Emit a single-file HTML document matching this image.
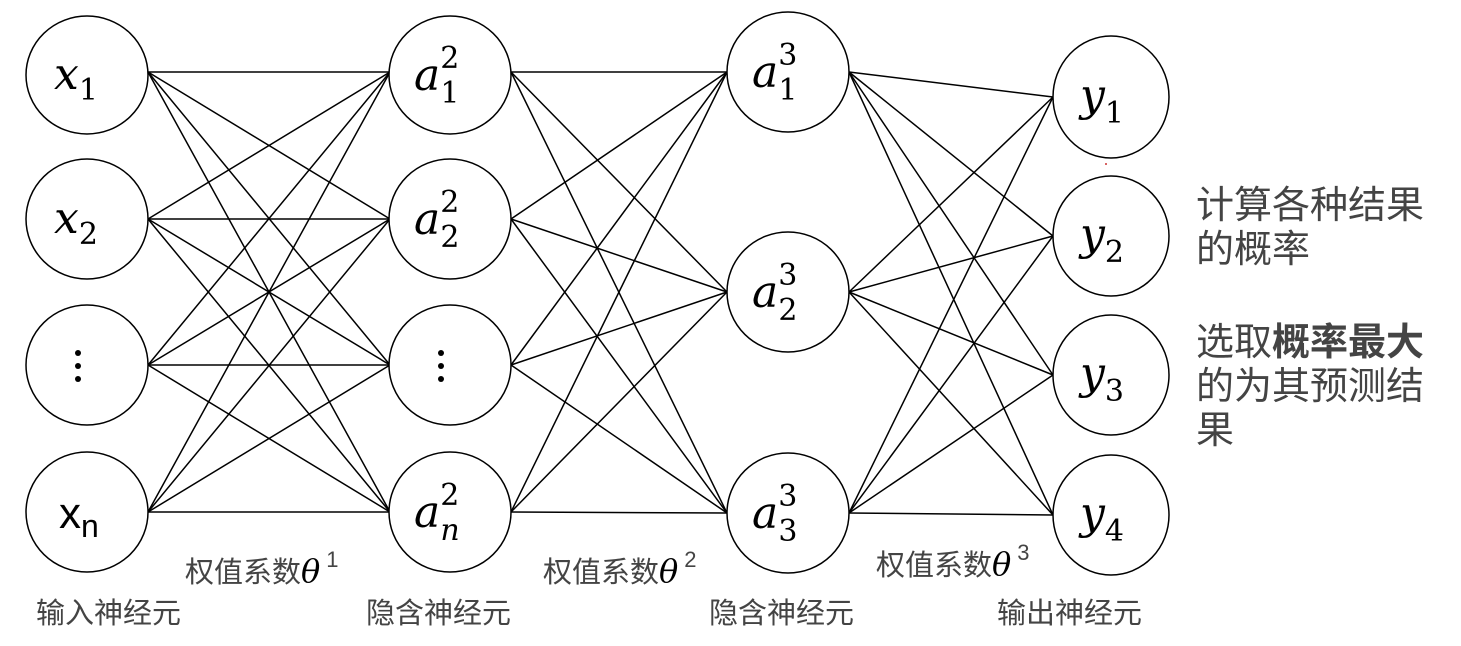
<!DOCTYPE html>
<html><head><meta charset="utf-8"><style>
html,body{margin:0;padding:0;background:#fff;}
svg{display:block;}
.m{font-family:"DejaVu Serif","Liberation Serif",serif;font-style:italic;fill:#000;}
.cn{font-family:"Liberation Sans","Noto Sans CJK SC",sans-serif;fill:#444;}
</style></head><body>
<svg width="1461" height="646" viewBox="0 0 1461 646" xmlns="http://www.w3.org/2000/svg">
<g stroke="#000" stroke-width="1.5" fill="none">
<line x1="148" y1="72" x2="390" y2="72"/><line x1="148" y1="72" x2="390" y2="219"/><line x1="148" y1="72" x2="390" y2="365"/><line x1="148" y1="72" x2="390" y2="512"/>
<line x1="148" y1="219" x2="390" y2="72"/><line x1="148" y1="219" x2="390" y2="219"/><line x1="148" y1="219" x2="390" y2="365"/><line x1="148" y1="219" x2="390" y2="512"/>
<line x1="148" y1="365" x2="390" y2="72"/><line x1="148" y1="365" x2="390" y2="219"/><line x1="148" y1="365" x2="390" y2="365"/><line x1="148" y1="365" x2="390" y2="512"/>
<line x1="148" y1="512" x2="390" y2="72"/><line x1="148" y1="512" x2="390" y2="219"/><line x1="148" y1="512" x2="390" y2="365"/><line x1="148" y1="512" x2="390" y2="512"/>
<line x1="511" y1="72" x2="727" y2="72"/><line x1="511" y1="72" x2="727" y2="292"/><line x1="511" y1="72" x2="727" y2="513"/>
<line x1="511" y1="219" x2="727" y2="72"/><line x1="511" y1="219" x2="727" y2="292"/><line x1="511" y1="219" x2="727" y2="513"/>
<line x1="511" y1="365" x2="727" y2="72"/><line x1="511" y1="365" x2="727" y2="292"/><line x1="511" y1="365" x2="727" y2="513"/>
<line x1="511" y1="512" x2="727" y2="72"/><line x1="511" y1="512" x2="727" y2="292"/><line x1="511" y1="512" x2="727" y2="513"/>
<line x1="849" y1="72" x2="1053" y2="97"/><line x1="849" y1="72" x2="1053" y2="236"/><line x1="849" y1="72" x2="1053" y2="375"/><line x1="849" y1="72" x2="1053" y2="515"/>
<line x1="849" y1="292" x2="1053" y2="97"/><line x1="849" y1="292" x2="1053" y2="236"/><line x1="849" y1="292" x2="1053" y2="375"/><line x1="849" y1="292" x2="1053" y2="515"/>
<line x1="849" y1="513" x2="1053" y2="97"/><line x1="849" y1="513" x2="1053" y2="236"/><line x1="849" y1="513" x2="1053" y2="375"/><line x1="849" y1="513" x2="1053" y2="515"/>
</g>
<g stroke="#000" stroke-width="1.5" fill="#fff">
<ellipse cx="87" cy="75" rx="61" ry="59"/>
<ellipse cx="87" cy="219" rx="61" ry="60"/>
<ellipse cx="87" cy="365" rx="61" ry="60"/>
<ellipse cx="87" cy="512" rx="61" ry="60"/>
<ellipse cx="450" cy="75" rx="61" ry="59"/>
<ellipse cx="450" cy="219" rx="61" ry="60"/>
<ellipse cx="450" cy="365" rx="61" ry="60"/>
<ellipse cx="450" cy="512" rx="61" ry="60"/>
<ellipse cx="788" cy="72" rx="61" ry="60"/>
<ellipse cx="788" cy="292" rx="61" ry="60"/>
<ellipse cx="788" cy="513" rx="61" ry="60"/>
<ellipse cx="1111" cy="97" rx="58" ry="61"/>
<ellipse cx="1111" cy="236" rx="58" ry="60"/>
<ellipse cx="1111" cy="375" rx="58" ry="60"/>
<ellipse cx="1111" cy="515" rx="58" ry="60"/>
</g>
<g class="m" font-size="44">
<text x="54" y="89">x<tspan font-size="30" font-style="normal" dy="11">1</tspan></text>
<text x="54" y="233">x<tspan font-size="30" font-style="normal" dy="11">2</tspan></text>
<text x="414" y="90">a<tspan font-size="30" font-style="normal" dy="-22">2</tspan><tspan font-size="30" font-style="normal" dx="-19" dy="35">1</tspan></text>
<text x="414" y="234">a<tspan font-size="30" font-style="normal" dy="-22">2</tspan><tspan font-size="30" font-style="normal" dx="-19" dy="35">2</tspan></text>
<text x="414" y="527">a<tspan font-size="30" font-style="normal" dy="-22">2</tspan><tspan font-size="30" dx="-19" dy="35">n</tspan></text>
<text x="752" y="87">a<tspan font-size="30" font-style="normal" dy="-22">3</tspan><tspan font-size="30" font-style="normal" dx="-19" dy="35">1</tspan></text>
<text x="752" y="307">a<tspan font-size="30" font-style="normal" dy="-22">3</tspan><tspan font-size="30" font-style="normal" dx="-19" dy="35">2</tspan></text>
<text x="752" y="528">a<tspan font-size="30" font-style="normal" dy="-22">3</tspan><tspan font-size="30" font-style="normal" dx="-19" dy="35">3</tspan></text>
<text x="1080" y="110">y<tspan font-size="30" font-style="normal" dy="13">1</tspan></text>
<text x="1080" y="249">y<tspan font-size="30" font-style="normal" dy="13">2</tspan></text>
<text x="1080" y="388">y<tspan font-size="30" font-style="normal" dy="13">3</tspan></text>
<text x="1080" y="528">y<tspan font-size="30" font-style="normal" dy="13">4</tspan></text>
</g>
<g fill="#000">
<circle cx="78" cy="353" r="3"/><circle cx="78" cy="366" r="3"/><circle cx="78" cy="379" r="3"/>
<circle cx="441" cy="353" r="3"/><circle cx="441" cy="366" r="3"/><circle cx="441" cy="379" r="3"/>
</g>
<text x="59" y="528" font-family="Liberation Sans, sans-serif" font-size="44" fill="#000">x<tspan font-size="32" dy="9">n</tspan></text>
<g class="cn" font-size="29">
<text x="185" y="582">权值系数<tspan class="m" fill="#444" font-size="32">θ</tspan><tspan font-size="22" dy="-15" dx="6">1</tspan></text>
<text x="543" y="582">权值系数<tspan class="m" fill="#444" font-size="32">θ</tspan><tspan font-size="22" dy="-15" dx="6">2</tspan></text>
<text x="876" y="575">权值系数<tspan class="m" fill="#444" font-size="32">θ</tspan><tspan font-size="22" dy="-15" dx="6">3</tspan></text>
<text x="36" y="623">输入神经元</text>
<text x="366" y="623">隐含神经元</text>
<text x="709" y="623">隐含神经元</text>
<text x="997" y="623">输出神经元</text>
</g>
<g class="cn" font-size="38" fill="#333">
<text x="1196" y="218">计算各种结果</text>
<text x="1196" y="262">的概率</text>
<text x="1196" y="355">选取<tspan font-weight="bold">概率最大</tspan></text>
<text x="1196" y="399">的为其预测结</text>
<text x="1196" y="443">果</text>
</g>
<circle cx="1106" cy="164" r="1" fill="#c33"/>
</svg>
</body></html>
